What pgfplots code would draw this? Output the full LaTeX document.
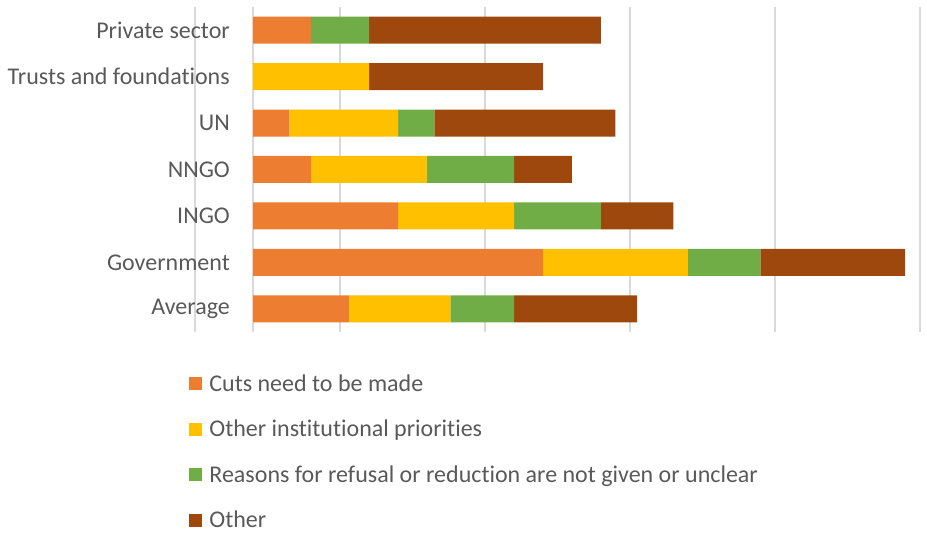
\documentclass[border=0pt]{standalone}
\usepackage{pgfplots}
\pgfplotsset{compat=1.18}
\usepackage{pgfplotstable}
\usepackage{fontspec}
\setmainfont{Carlito}[Ligatures=NoCommon]
\definecolor{cOrange}{HTML}{ED7D31}
\definecolor{cYellow}{HTML}{FFC000}
\definecolor{cGreen}{HTML}{70AD47}
\definecolor{cBrown}{HTML}{9E480E}
\definecolor{txt}{HTML}{595959}
\definecolor{grd}{HTML}{D9D9D9}
\pgfplotstableread{
y cuts inst unclear other
0 0.066 0.070 0.044 0.085
1 0.200 0.100 0.050 0.100
2 0.100 0.080 0.060 0.050
3 0.040 0.080 0.060 0.040
4 0.025 0.075 0.025 0.125
5 0.000 0.080 0.000 0.120
6 0.040 0.000 0.040 0.160
}\datatable
\begin{document}
\begin{tikzpicture}
\begin{axis}[
  scale only axis,
  width=725pt, height=325pt,
  xbar stacked,
  bar width=27pt,
  xmin=-0.0402, xmax=0.4602,
  ymin=-0.5, ymax=6.5,
  xtick={-0.04,0,0.06,0.16,0.26,0.36,0.46},
  xticklabels={},
  xmajorgrids,
  grid style={grd, line width=1.6pt},
  axis line style={draw=none},
  major tick length=0pt,
  ytick={0,1,2,3,4,5,6},
  yticklabels={Average,Government,INGO,NNGO,UN,Trusts and foundations,Private sector},
  yticklabel style={anchor=east, xshift=35pt, inner sep=0pt, font=\fontsize{24}{28}\selectfont, text=txt},
  legend style={at={(axis description cs:-0.008,-0.13)}, anchor=north west, draw=none, fill=none,
    font=\fontsize{24}{28}\selectfont, text=txt, row sep=27.4pt, inner sep=0pt,
    nodes={inner sep=0pt, outer sep=0pt, xshift=0pt}},
  legend cell align=left,
  legend image code/.code={\fill[#1] (0pt,-6.5pt) rectangle (13pt,6.5pt);},
  /tikz/every even column/.append style={column sep=0pt},
]
\addplot[fill=cOrange, draw=none] table[x=cuts, y=y] {\datatable};
\addlegendentry{\hspace{7pt}Cuts need to be made}
\addplot[fill=cYellow, draw=none] table[x=inst, y=y] {\datatable};
\addlegendentry{\hspace{7pt}Other institutional priorities}
\addplot[fill=cGreen, draw=none] table[x=unclear, y=y] {\datatable};
\addlegendentry{\hspace{7pt}Reasons for refusal or reduction are not given or unclear}
\addplot[fill=cBrown, draw=none] table[x=other, y=y] {\datatable};
\addlegendentry{\hspace{7pt}Other}
\end{axis}
\pgfresetboundingbox
\path (current axis.south west) ++(-195pt,-202pt) rectangle ++(927pt,534pt);
\end{tikzpicture}
\end{document}
